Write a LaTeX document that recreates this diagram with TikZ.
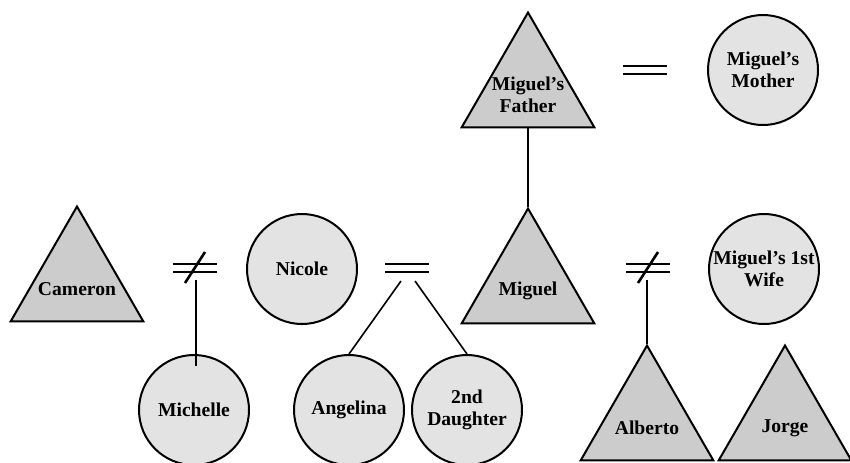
\documentclass[tikz,border=0pt]{standalone}
\usepackage{fontspec}
\setmainfont{Liberation Serif}
\usetikzlibrary{shapes.geometric}

\begin{document}
\begin{tikzpicture}[x=0.5pt, y=-0.5pt,
	male/.style={draw, regular polygon, regular polygon sides=3, minimum size=76.5pt, inner sep=0pt, line width=1pt, fill=gray!40},
	female/.style={draw, circle, minimum size=55pt, inner sep=0pt, line width=1pt, fill=gray!22},
	who/.style={font=\bfseries\fontsize{9.8}{11}\selectfont, align=center},
	bar/.style={line width=1.3pt},
	kin/.style={line width=0.8pt}]
				\useasboundingbox (0,0) rectangle (850,462);
				
				\node[male, label={[who, yshift=-3pt]center:{Miguel's\\Father}}] (father) at (528,89) {};
				\node[female, label={[who]center:{Miguel's\\Mother}}] (mother) at (763,70) {};
				
				\node[male, label={[who, yshift=-3pt]center:Cameron}] (cameron) at (77,283) {};
				\node[female, label={[who]center:Nicole}] (nicole) at (302,269) {};
				\node[male, label={[who, yshift=-3pt]center:Miguel}] (miguel) at (528,285) {};
				\node[female, label={[who]center:{Miguel's 1st\\Wife}}] (wife) at (764,269) {};
				
				\node[female, label={[who]center:Michelle}] (michelle) at (194,410) {};
				\node[female, label={[who]center:Angelina}] (angelina) at (349,410) {};
				\node[female, label={[who]center:{2nd\\Daughter}}] (daughter) at (467,410) {};
				\node[male, label={[who, yshift=-3pt]center:Alberto}] (alberto) at (647,422) {};
				\node[male, label={[who, yshift=-3pt]center:Jorge}] (jorge) at (785,422) {};
				
				% unions
				\coordinate (u1) at (645,70);
				\coordinate (u2) at (195,268);
				\coordinate (u3) at (407,268);
				\coordinate (u4) at (648,268);
				
				\foreach \u in {u1,u2,u3,u4}
					\draw[bar] ([shift={(-22,-4)}]\u) -- ++(44,0) ([shift={(-22,4)}]\u) -- ++(44,0);
				\foreach \u in {u2,u4}
					\draw[bar] ([shift={(-10,15)}]\u) -- ([shift={(10,-16)}]\u);
				
				% descent
				\draw[kin] (father.side 2) -- (miguel.corner 1);
				\draw[kin] ([shift={(1,12)}]u2) -- ([shift={(1,12)}]u2 |- michelle.north);
				\draw[kin] ([shift={(-6,13)}]u3) -- (angelina.north);
				\draw[kin] ([shift={(8,13)}]u3) -- (daughter.north);
				\draw[kin] ([shift={(-1,12)}]u4) -- (alberto.corner 1);
			\end{tikzpicture}
\end{document}
